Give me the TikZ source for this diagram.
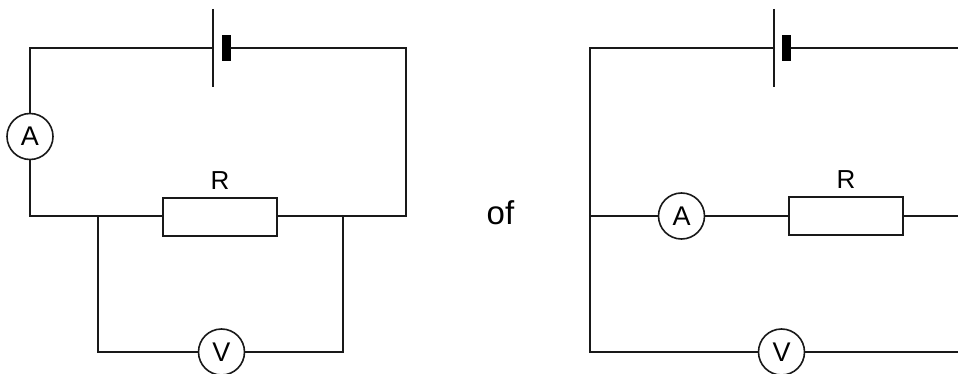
\documentclass[tikz,border=0pt]{standalone}
\usepackage{fontspec}
\setmainfont{Liberation Sans}
\tikzset{
  wire/.style={line width=2pt,draw=black!90,line cap=round,line join=miter},
  thinplate/.style={line width=2pt,draw=black!90},
  meter/.style={circle,draw=black!90,line width=1.6pt,minimum size=46pt,inner sep=0pt,font=\fontsize{27}{27}\selectfont},
  resistor/.style={rectangle,draw=black!90,line width=2pt,minimum width=114pt,minimum height=38pt,inner sep=0pt},
  cellplate/.style={rectangle,fill=black,minimum width=8.5pt,minimum height=26pt,inner sep=0pt},
  lbl/.style={inner sep=0pt,font=\fontsize{26}{26}\selectfont},
}
\begin{document}
\begin{tikzpicture}[x=1pt,y=-1pt]
\useasboundingbox (0,0) rectangle (958,374);
\fill[white] (0,0) rectangle (958,374);
% left circuit
\coordinate (ltl) at (30,48);
\coordinate (ltr) at (406,48);
\coordinate (lbl) at (30,216);
\coordinate (lbr) at (406,216);
\coordinate (lj1) at (98,216);
\coordinate (lj2) at (343,216);
\coordinate (lv1) at (98,352);
\coordinate (lv2) at (343,352);
\coordinate (lpt) at (213,9);
\coordinate (lpb) at (213,87);
\coordinate (lpm) at (213,48);
\node[cellplate] (lcell) at (226.3,48) {};
\node[meter] (la) at (30,136.5) {A};
\node[resistor] (lr) at (220,217) {};
\node[meter] (lv) at (221.5,352) {V};
\node[lbl] (lrt) at (220,181) {R};
\draw[thinplate] (lpt) -- (lpb);
\draw[wire] (lpm) -- (ltl) -- (la);
\draw[wire] (la) -- (lbl) -- (lr.west |- lbl);
\draw[wire] (lcell) -- (ltr) -- (lbr) -- (lr.east |- lbr);
\draw[wire] (lj1) -- (lv1) -- (lv);
\draw[wire] (lj2) -- (lv2) -- (lv);
% separator text
\node[inner sep=0pt,anchor=base,font=\fontsize{33}{33}\selectfont] (of) at (500.5,224) {of};
% right circuit
\coordinate (rtl) at (590,48);
\coordinate (rte) at (958,48);
\coordinate (rj) at (590,216);
\coordinate (re) at (958,216);
\coordinate (rbl) at (590,352);
\coordinate (rbe) at (958,352);
\coordinate (rpt) at (774,9);
\coordinate (rpb) at (774,87);
\coordinate (rpm) at (774,48);
\node[cellplate] (rcell) at (786.7,48) {};
\node[meter] (ra) at (681.5,216) {A};
\node[resistor] (rr) at (846,216) {};
\node[meter] (rv) at (781.5,352) {V};
\node[lbl] (rrt) at (846,180) {R};
\draw[thinplate] (rpt) -- (rpb);
\draw[wire] (rpm) -- (rtl) -- (rbl) -- (rv);
\draw[wire] (rcell) -- (rte);
\draw[wire] (rj) -- (ra);
\draw[wire] (ra) -- (rr.west |- ra);
\draw[wire] (rr.east |- re) -- (re);
\draw[wire] (rv) -- (rbe);
\end{tikzpicture}
\end{document}
